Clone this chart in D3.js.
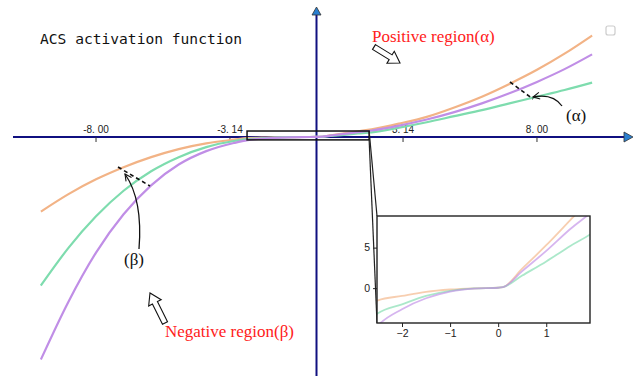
<!DOCTYPE html>
<html>
<head>
<meta charset="utf-8">
<script src="https://cdn.jsdelivr.net/npm/d3@7"></script>
<style>
  body { margin: 0; background: #fff; }
  svg { display: block; }
</style>
</head>
<body>
<div id="chart"></div>
<script>
// sampled x positions (shared by all three curves)
var xs = [-10, -9, -8, -7, -6, -5, -4, -3, -2.5, -2, -1.5, -1, -0.5, 0, 0.1, 0.5, 1, 1.5, 2, 3, 4, 5, 6, 7, 8, 9, 10];
// curve values
var orangeVals = [-111, -85, -63, -45, -30, -18, -9.5, -4, -1.5, -0.96, -0.46, -0.17, -0.02, 0.05, 0.12, 2.4, 5.3, 8.4, 11.5, 20, 30, 44, 60, 79, 100, 124, 151];
var purpleVals = [-331, -245, -172, -115, -72, -41, -21, -9, -4.6, -2.6, -1.25, -0.42, -0.05, 0.05, 0.12, 2.1, 4.6, 7.3, 9.7, 17, 26, 37, 50, 65, 82, 101, 123];
var greenVals = [-221, -165, -118, -80, -51, -30, -15, -6, -3.1, -2, -0.96, -0.33, -0.03, 0.05, 0.12, 1.55, 3.3, 5.2, 7, 14, 22, 31, 40, 50, 60, 70, 81];

// main axis ticks
var mainTicks = [-8, -3.14, 3.14, 8];
var mainTickLabels = ['-8. 00', '-3. 14', '3. 14', '8. 00'];

// inset (zoomed) window and its ticks
var insetX = [-2.52, 1.91];
var insetY = [-4.3, 8.9];
var insetXTicks = [-2, -1, 0, 1];
var insetYTicks = [0, 5];

var series = [
    { name: 'orange', vals: orangeVals, color: '#f2b386' },
    { name: 'green', vals: greenVals, color: '#7edcae' },
    { name: 'purple', vals: purpleVals, color: '#c08ee6' }
];

var width = 642, height = 376;
var svg = d3.select('#chart').append('svg')
    .attr('width', width)
    .attr('height', height);

// main scales
var xMain = d3.scaleLinear().domain([-10, 10]).range([40.9, 592.1]);
var yMain = d3.scaleLinear().domain([0, 100]).range([137, 69.8]);
var axisColor = '#101080';

var lineMain = d3.line()
    .x(function(d) { return xMain(d[0]); })
    .y(function(d) { return yMain(d[1]); })
    .curve(d3.curveMonotoneX);

// axes
var y0 = yMain(0), x0 = xMain(0);
svg.append('line')
    .attr('x1', 13).attr('x2', 626).attr('y1', y0).attr('y2', y0)
    .attr('stroke', axisColor).attr('stroke-width', 2);
svg.append('line')
    .attr('x1', x0).attr('x2', x0).attr('y1', 14).attr('y2', height)
    .attr('stroke', axisColor).attr('stroke-width', 2);

// arrow heads
svg.append('path')
    .attr('d', 'M' + 624 + ',' + (y0 - 5) + 'L' + 633 + ',' + y0 + 'L' + 624 + ',' + (y0 + 5) + 'Z')
    .attr('fill', '#2a7fd0').attr('stroke', '#333').attr('stroke-width', 0.8);
svg.append('path')
    .attr('d', 'M' + (x0 - 4.5) + ',15L' + x0 + ',7L' + (x0 + 4.5) + ',15Z')
    .attr('fill', '#2a7fd0').attr('stroke', '#333').attr('stroke-width', 0.8);

// ticks
mainTicks.forEach(function(t, i) {
    svg.append('line')
        .attr('x1', xMain(t)).attr('x2', xMain(t))
        .attr('y1', y0).attr('y2', y0 + 5)
        .attr('stroke', '#333').attr('stroke-width', 1);
    svg.append('text')
        .attr('x', xMain(t)).attr('y', y0 - 4)
        .attr('text-anchor', 'middle')
        .attr('font-family', 'Liberation Sans, Arial, sans-serif')
        .attr('font-size', 10)
        .attr('fill', '#222')
        .text(mainTickLabels[i]);
});

// main curves
series.forEach(function(s) {
    var pts = xs.map(function(x, i) { return [x, s.vals[i]]; });
    svg.append('path')
        .attr('d', lineMain(pts))
        .attr('fill', 'none')
        .attr('stroke', s.color)
        .attr('stroke-width', 2.2);
});

// title
svg.append('text')
    .attr('x', 40).attr('y', 44)
    .attr('font-family', 'DejaVu Sans Mono, monospace')
    .attr('font-size', 14.6)
    .attr('fill', '#111')
    .text('ACS activation function');

// small checkbox in top right
svg.append('rect')
    .attr('x', 606).attr('y', 26).attr('width', 9).attr('height', 9).attr('rx', 2)
    .attr('fill', '#fff').attr('stroke', '#ccc').attr('stroke-width', 1.2);

// zoom rectangle on the main chart
var rx0 = xMain(insetX[0]), rx1 = xMain(insetX[1]);
var ry0 = yMain(insetY[1]), ry1 = yMain(insetY[0]);
svg.append('rect')
    .attr('x', rx0).attr('y', ry0).attr('width', rx1 - rx0).attr('height', ry1 - ry0)
    .attr('fill', 'none').attr('stroke', '#111').attr('stroke-width', 1.5);

// inset
var inL = 377, inR = 590, inT = 216, inB = 323;
var xIn = d3.scaleLinear().domain(insetX).range([inL, inR]);
var yIn = d3.scaleLinear().domain(insetY).range([inB, inT]);

// connector lines
svg.append('line')
    .attr('x1', rx1).attr('y1', ry0).attr('x2', inL).attr('y2', inT)
    .attr('stroke', '#222').attr('stroke-width', 1.2);
svg.append('line')
    .attr('x1', rx1).attr('y1', ry1).attr('x2', inL).attr('y2', inB)
    .attr('stroke', '#222').attr('stroke-width', 1.2);

var inset = svg.append('g');
inset.append('rect')
    .attr('x', inL).attr('y', inT).attr('width', inR - inL).attr('height', inB - inT)
    .attr('fill', '#fff');

svg.append('clipPath').attr('id', 'inclip')
    .append('rect')
    .attr('x', inL).attr('y', inT).attr('width', inR - inL).attr('height', inB - inT);

var lineIn = d3.line()
    .x(function(d) { return xIn(d[0]); })
    .y(function(d) { return yIn(d[1]); })
    .curve(d3.curveMonotoneX);

var curvesIn = inset.append('g').attr('clip-path', 'url(#inclip)');
series.forEach(function(s) {
    var pts = xs.map(function(x, i) { return [x, s.vals[i]]; })
        .filter(function(d) { return d[0] >= -3 && d[0] <= 3; });
    curvesIn.append('path')
        .attr('d', lineIn(pts))
        .attr('fill', 'none')
        .attr('stroke', s.color)
        .attr('stroke-opacity', 0.65)
        .attr('stroke-width', 1.8);
});

inset.append('rect')
    .attr('x', inL).attr('y', inT).attr('width', inR - inL).attr('height', inB - inT)
    .attr('fill', 'none').attr('stroke', '#222').attr('stroke-width', 1.4);

var fmtMinus = function(d) { return String(d).replace('-', '\u2212'); };
var axB = inset.append('g')
    .attr('transform', 'translate(0,' + inB + ')')
    .call(d3.axisBottom(xIn).tickValues(insetXTicks).tickSize(4).tickPadding(3).tickFormat(fmtMinus));
var axL = inset.append('g')
    .attr('transform', 'translate(' + inL + ',0)')
    .call(d3.axisLeft(yIn).tickValues(insetYTicks).tickSize(4).tickPadding(3).tickFormat(fmtMinus));
[axB, axL].forEach(function(ax) {
    ax.select('.domain').remove();
    ax.selectAll('line').attr('stroke', '#222');
    ax.selectAll('text')
        .attr('font-family', 'Liberation Sans, Arial, sans-serif')
        .attr('font-size', 10.5)
        .attr('fill', '#222');
});

// annotations
var serif = 'Liberation Serif, Times New Roman, serif';
svg.append('text')
    .attr('x', 372).attr('y', 42)
    .attr('font-family', serif).attr('font-size', 17)
    .attr('fill', '#ff2020')
    .text('Positive region(\u03b1)');
svg.append('text')
    .attr('x', 165).attr('y', 337)
    .attr('font-family', serif).attr('font-size', 17)
    .attr('fill', '#ff2020')
    .text('Negative region(\u03b2)');
svg.append('text')
    .attr('x', 566).attr('y', 121)
    .attr('font-family', serif).attr('font-size', 17)
    .attr('fill', '#111')
    .text('(\u03b1)');
svg.append('text')
    .attr('x', 124).attr('y', 265)
    .attr('font-family', serif).attr('font-size', 17)
    .attr('fill', '#111')
    .text('(\u03b2)');

// hollow block arrows
function blockArrow(x1, y1, x2, y2) {
    var len = Math.hypot(x2 - x1, y2 - y1);
    var ang = Math.atan2(y2 - y1, x2 - x1) * 180 / Math.PI;
    var hl = 11, sw = 2.8, hw = 7;
    var d = 'M0,' + (-sw) + 'L' + (len - hl) + ',' + (-sw) + 'L' + (len - hl) + ',' + (-hw) +
        'L' + len + ',0L' + (len - hl) + ',' + hw + 'L' + (len - hl) + ',' + sw + 'L0,' + sw + 'Z';
    svg.append('path')
        .attr('d', d)
        .attr('transform', 'translate(' + x1 + ',' + y1 + ') rotate(' + ang + ')')
        .attr('fill', '#fff').attr('stroke', '#111').attr('stroke-width', 1.1);
}
blockArrow(374, 47, 400, 63);
blockArrow(165, 323, 150, 293);

// dashed markers between curves
svg.append('line')
    .attr('x1', 510).attr('y1', 82).attr('x2', 533).attr('y2', 99)
    .attr('stroke', '#111').attr('stroke-width', 1.6).attr('stroke-dasharray', '4,3');
svg.append('line')
    .attr('x1', 118).attr('y1', 167).attr('x2', 150).attr('y2', 186)
    .attr('stroke', '#111').attr('stroke-width', 1.6).attr('stroke-dasharray', '4,3');

// curved pointer arrows
svg.append('defs').append('marker')
    .attr('id', 'vhead')
    .attr('viewBox', '-10 -6 12 12')
    .attr('refX', 0).attr('refY', 0)
    .attr('markerWidth', 10).attr('markerHeight', 10)
    .attr('markerUnits', 'userSpaceOnUse')
    .attr('orient', 'auto')
    .append('path')
    .attr('d', 'M-8,-4L0,0L-8,4')
    .attr('fill', 'none').attr('stroke', '#111').attr('stroke-width', 1.3);

svg.append('path')
    .attr('d', 'M562,106 Q553,93 533,97')
    .attr('fill', 'none').attr('stroke', '#111').attr('stroke-width', 1.3)
    .attr('marker-end', 'url(#vhead)');
svg.append('path')
    .attr('d', 'M139,249 Q143,200 125,174')
    .attr('fill', 'none').attr('stroke', '#111').attr('stroke-width', 1.3)
    .attr('marker-end', 'url(#vhead)');
</script>
</body>
</html>
